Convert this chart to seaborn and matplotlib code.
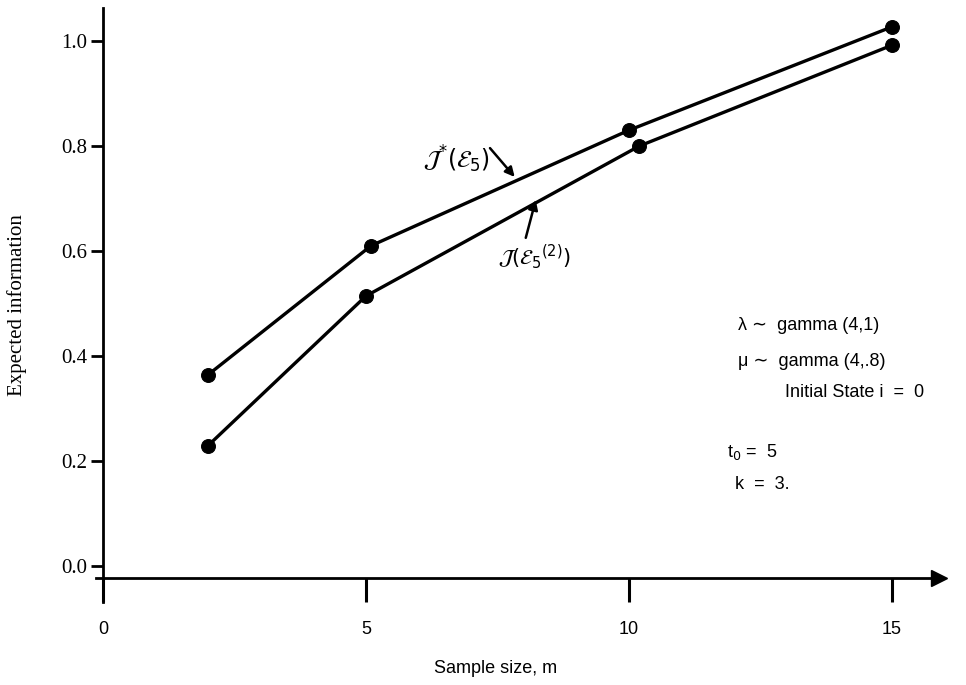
import numpy as np
import pandas as pd
import seaborn as sns
import matplotlib.pyplot as plt

# sample size m and expected information
m_star = [2, 5.1, 10, 15]
info_star = [0.364, 0.610, 0.830, 1.027]   # J*(E5)
m_two = [2, 5, 10.2, 15]
info_two = [0.229, 0.514, 0.800, 0.992]    # J(E5^(2))

xticks = [0, 5, 10, 15]
yticks = [0.0, 0.2, 0.4, 0.6, 0.8, 1.0]

sns.set_style("white")
plt.rcParams['font.family'] = ['Liberation Sans', 'DejaVu Sans']
plt.rcParams.update({'text.color': 'k', 'axes.labelcolor': 'k',
                     'xtick.color': 'k', 'ytick.color': 'k'})

fig = plt.figure(figsize=(9.66, 6.85), dpi=100)
# axes box in pixels: x 96..935, y 8..602 (of 966x685)
ax = fig.add_axes([96 / 966, (685 - 602) / 685, (935 - 96) / 966, (602 - 8) / 685])

sns.lineplot(x=m_star, y=info_star, ax=ax, color='k', linewidth=2.4,
             marker='o', markersize=10, markeredgecolor='k')
sns.lineplot(x=m_two, y=info_two, ax=ax, color='k', linewidth=2.4,
             marker='o', markersize=10, markeredgecolor='k')

ax.set_xlim(-0.13, 15.82)
ax.set_ylim(-0.069, 1.063)

# axes crossing like in the original drawing
ax.spines['right'].set_visible(False)
ax.spines['top'].set_visible(False)
ax.spines['left'].set_position(('data', 0))
ax.spines['bottom'].set_position(('data', -0.023))
for s in ['left', 'bottom']:
    ax.spines[s].set_linewidth(2)
    ax.spines[s].set_color('k')
ax.plot([15.9], [-0.023], marker='>', color='k', markersize=11, clip_on=False)

ax.set_xticks(xticks)
ax.set_yticks(yticks)
ax.set_yticklabels([f"{v:.1f}" for v in yticks], family='Liberation Serif', fontsize=15)
ax.set_xticklabels([str(v) for v in xticks], fontsize=13)
ax.tick_params(axis='x', bottom=True, direction='out', length=17, width=2.2, pad=14, color='k')
ax.tick_params(axis='y', left=True, direction='out', length=9, width=2, pad=2, color='k')

ax.set_ylabel('Expected information', family='Liberation Serif', fontsize=15)
ax.yaxis.set_label_coords(-0.082, 0.5)
ax.set_xlabel('Sample size, m', fontsize=13)
ax.xaxis.set_label_coords(0.476, -0.098)

# curve labels with arrows
arrow = dict(arrowstyle='-|>', color='k', lw=1.8, mutation_scale=14, shrinkA=0, shrinkB=0)
ax.text(7.36, 0.775, r'$\mathcal{J}^{*}(\mathcal{E}_5)$', ha='right', va='center', fontsize=17)
ax.annotate('', xy=(7.83, 0.741), xytext=(7.36, 0.796), arrowprops=arrow)
ax.text(7.52, 0.59, r'$\mathcal{J}(\mathcal{E}_5{}^{(2)})$', ha='left', va='center', fontsize=15)
ax.annotate('', xy=(8.23, 0.697), xytext=(8.04, 0.625), arrowprops=arrow)

# parameter notes
ax.text(12.07, 0.457, 'λ ∼  gamma (4,1)', fontsize=13, va='center')
ax.text(12.07, 0.389, 'μ ∼  gamma (4,.8)', fontsize=13, va='center')
ax.text(12.97, 0.331, 'Initial State i  =  0', fontsize=13, va='center')
ax.text(11.86, 0.217, r't$_0$ =  5', fontsize=13, va='center')
ax.text(12.02, 0.154, 'k  =  3.', fontsize=13, va='center')

fig.savefig('out.png', dpi=100)
